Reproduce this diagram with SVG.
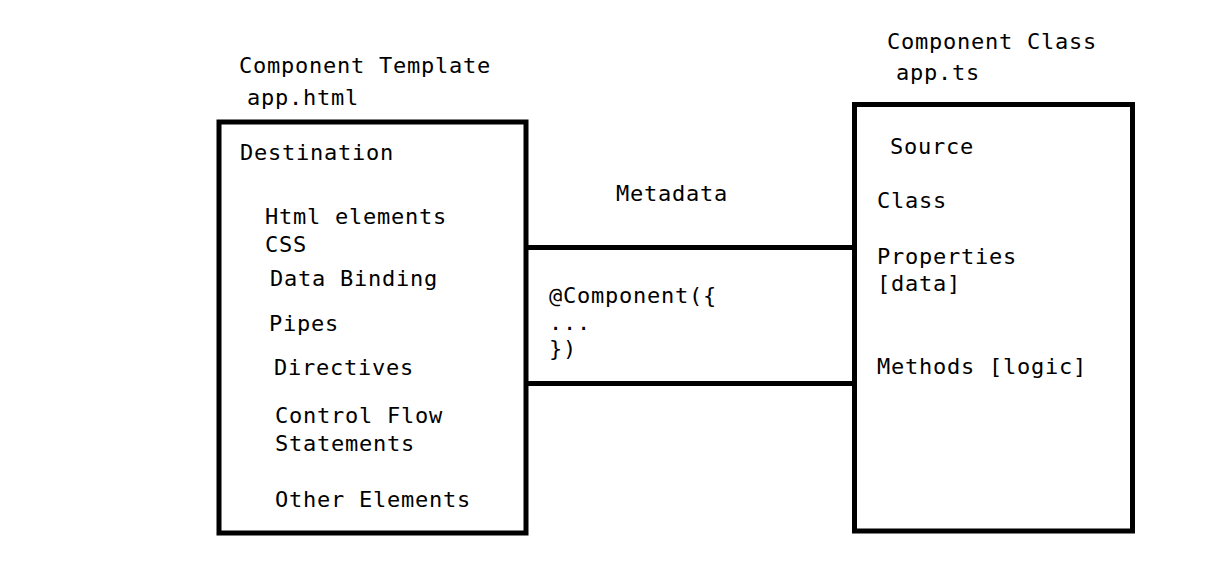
<svg xmlns="http://www.w3.org/2000/svg" width="1216" height="565" viewBox="0 0 1216 565">
<style>
  text { font-family: "DejaVu Sans Mono", "Liberation Mono", monospace; font-size: 22px; letter-spacing: 0.75px; fill: #000; }
  .box { fill: none; stroke: #000; stroke-width: 5; }
  .conn { stroke: #000; stroke-width: 5; fill: none; }
</style>
<rect width="1216" height="565" fill="#fff"/>
<g id="template">
  <text x="239" y="73">Component Template</text>
  <text x="247" y="105">app.html</text>
  <rect class="box" x="219" y="122" width="307" height="411"/>
  <text x="240" y="160">Destination</text>
  <text x="265" y="224">Html elements</text>
  <text x="265" y="252">CSS</text>
  <text x="270" y="286">Data Binding</text>
  <text x="269" y="331">Pipes</text>
  <text x="274" y="375">Directives</text>
  <text x="275" y="423">Control Flow</text>
  <text x="275" y="451">Statements</text>
  <text x="275" y="507">Other Elements</text>
</g>
<g id="connectors">
  <line class="conn" x1="526" y1="247.5" x2="855" y2="247.5"/>
  <line class="conn" x1="526" y1="383.5" x2="855" y2="383.5"/>
</g>
<g id="metadata">
  <text x="616" y="201">Metadata</text>
  <text x="549" y="303">@Component({</text>
  <text x="549" y="330">...</text>
  <text x="549" y="356">})</text>
</g>
<g id="class">
  <text x="887" y="49">Component Class</text>
  <text x="896" y="80">app.ts</text>
  <rect class="box" x="854.5" y="104.5" width="278" height="426.5"/>
  <text x="890" y="154">Source</text>
  <text x="877" y="208">Class</text>
  <text x="877" y="264">Properties</text>
  <text x="877" y="291">[data]</text>
  <text x="877" y="374">Methods [logic]</text>
</g>
</svg>
